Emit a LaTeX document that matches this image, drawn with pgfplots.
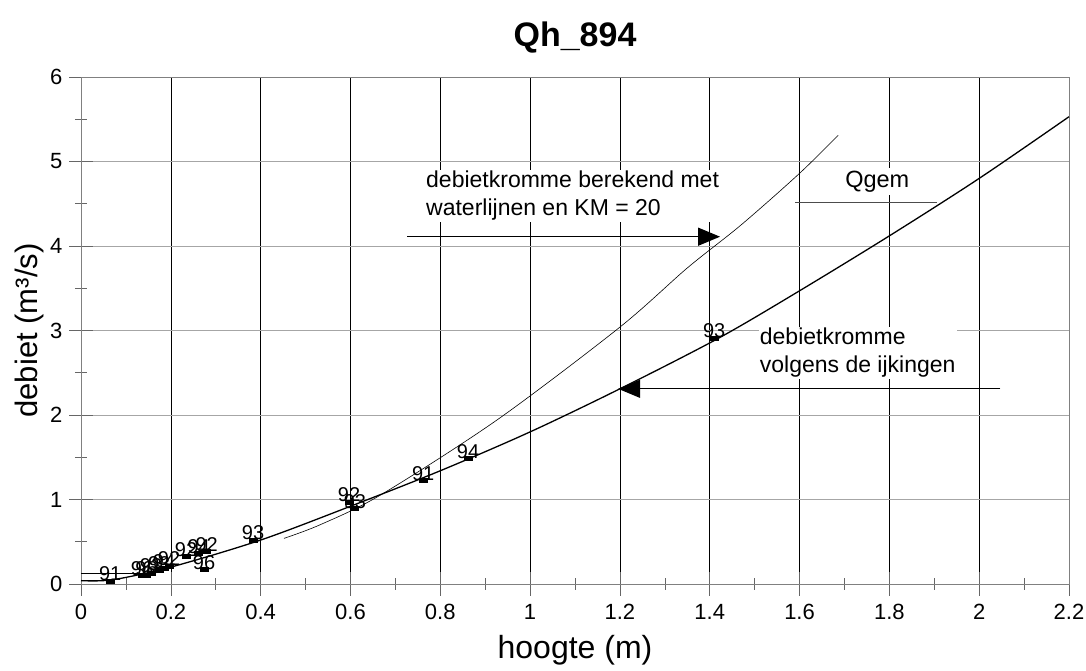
\documentclass[border=0pt]{standalone}
\usepackage{pgfplots}
\pgfplotsset{compat=1.18}
\usepackage{fontspec}
\setmainfont{Liberation Sans}
\usetikzlibrary{arrows.meta}
\pgfdeclareplotmark{rect}{\pgfpathrectangle{\pgfpoint{-4.5pt}{-2.5pt}}{\pgfpoint{9pt}{5pt}}\pgfusepathqfill}

\pgfplotstableread{
x y lab
0.065 0.035 91
0.136 0.095 96
0.146 0.100 96
0.156 0.130 93
0.174 0.155 93
0.185 0.180 94
0.196 0.210 92
0.234 0.320 92
0.262 0.360 94
0.274 0.170 96
0.280 0.380 92
0.383 0.520 93
0.597 0.970 92
0.610 0.890 93
0.762 1.220 91
0.862 1.480 94
1.410 2.910 93
}\meetpunten

\begin{document}
\begin{tikzpicture}
\useasboundingbox (-81pt,-87pt) rectangle (1005pt,584pt);
\begin{axis}[
  scale only axis, width=988pt, height=507pt,
  xmin=0, xmax=2.2, ymin=0, ymax=6,
  xtick={0,0.2,0.4,0.6,0.8,1,1.2,1.4,1.6,1.8,2,2.2},
  xticklabels={0,0.2,0.4,0.6,0.8,1,1.2,1.4,1.6,1.8,2,2.2},
  ytick={0,1,2,3,4,5,6},
  minor x tick num=1, minor y tick num=1,
  tick pos=left,
  tick align=center,
  major tick length=24pt, minor tick length=12pt,
  tick style={gray!80!black, line width=0.6pt},
  xmajorgrids, ymajorgrids,
  major x grid style={black, line width=0.6pt},
  major y grid style={gray!70, line width=0.8pt},
  axis line style={gray, line width=0.8pt},
  tick label style={font=\fontsize{22}{26}\selectfont},
  /pgf/number format/assume math mode=true,
  xticklabel style={yshift=-5pt},
  yticklabel style={xshift=-3pt},
  clip=false,
]
% rating curve (ijkingen)
\addplot[black, line width=1.3pt, smooth] coordinates {
 (0,0.04) (0.07,0.05) (0.2,0.2) (0.4,0.52) (0.6,0.92) (0.8,1.34) (1.0,1.8)
 (1.2,2.31) (1.42,2.91) (1.6,3.47) (1.8,4.12) (2.0,4.8) (2.2,5.53)};
% curve from waterlijnen
\addplot[black, line width=0.6pt, smooth] coordinates {
 (0.452,0.54) (0.532,0.70) (0.666,1.05) (0.926,1.94) (1.2,3.04) (1.35,3.74)
 (1.47,4.25) (1.6,4.86) (1.686,5.31)};
\addplot[black, line width=0.6pt] coordinates {(0,0.13) (0.14,0.13)};
% measurements
\addplot[only marks, mark=rect, black,
  nodes near coords, point meta=explicit symbolic,
  nodes near coords style={font=\fontsize{20}{22}\selectfont, anchor=south, yshift=-1pt, inner sep=1pt}]
  table[x=x, y=y, meta=lab] {\meetpunten};

% annotations
\node[fill=white, anchor=north west, align=left, inner sep=1pt,
  font=\fontsize{23}{28}\selectfont] at (axis cs:0.766,4.90)
  {debietkromme berekend met\\waterlijnen en KM = 20};
\draw[black, line width=1.3pt, -{Triangle[length=22pt,width=18pt]}]
  (axis cs:0.726,4.11) -- (axis cs:1.423,4.11);
\node[fill=white, anchor=center, inner sep=3pt,
  font=\fontsize{23.5}{26}\selectfont] at (axis cs:1.773,4.76) {Qgem};
\draw[gray!60!black, line width=0.8pt] (axis cs:1.59,4.52) -- (axis cs:1.906,4.52);
\node[fill=white, anchor=north west, align=left, inner sep=1pt,
  font=\fontsize{23}{28}\selectfont] at (axis cs:1.509,3.04)
  {debietkromme\\volgens de ijkingen};
\draw[black, line width=1.3pt, -{Triangle[length=22pt,width=18pt]}]
  (axis cs:2.047,2.31) -- (axis cs:1.196,2.31);

\node[font=\fontsize{34}{38}\selectfont\bfseries] at ([yshift=39pt]axis description cs:0.5,1) {Qh\_894};
\node[font=\fontsize{32}{36}\selectfont] at ([yshift=-66pt]axis description cs:0.5,0) {hoogte (m)};
\node[font=\fontsize{31}{36}\selectfont, rotate=90] at ([xshift=-52pt]axis description cs:0,0.5) {debiet (m³/s)};
\end{axis}
\end{tikzpicture}
\end{document}
